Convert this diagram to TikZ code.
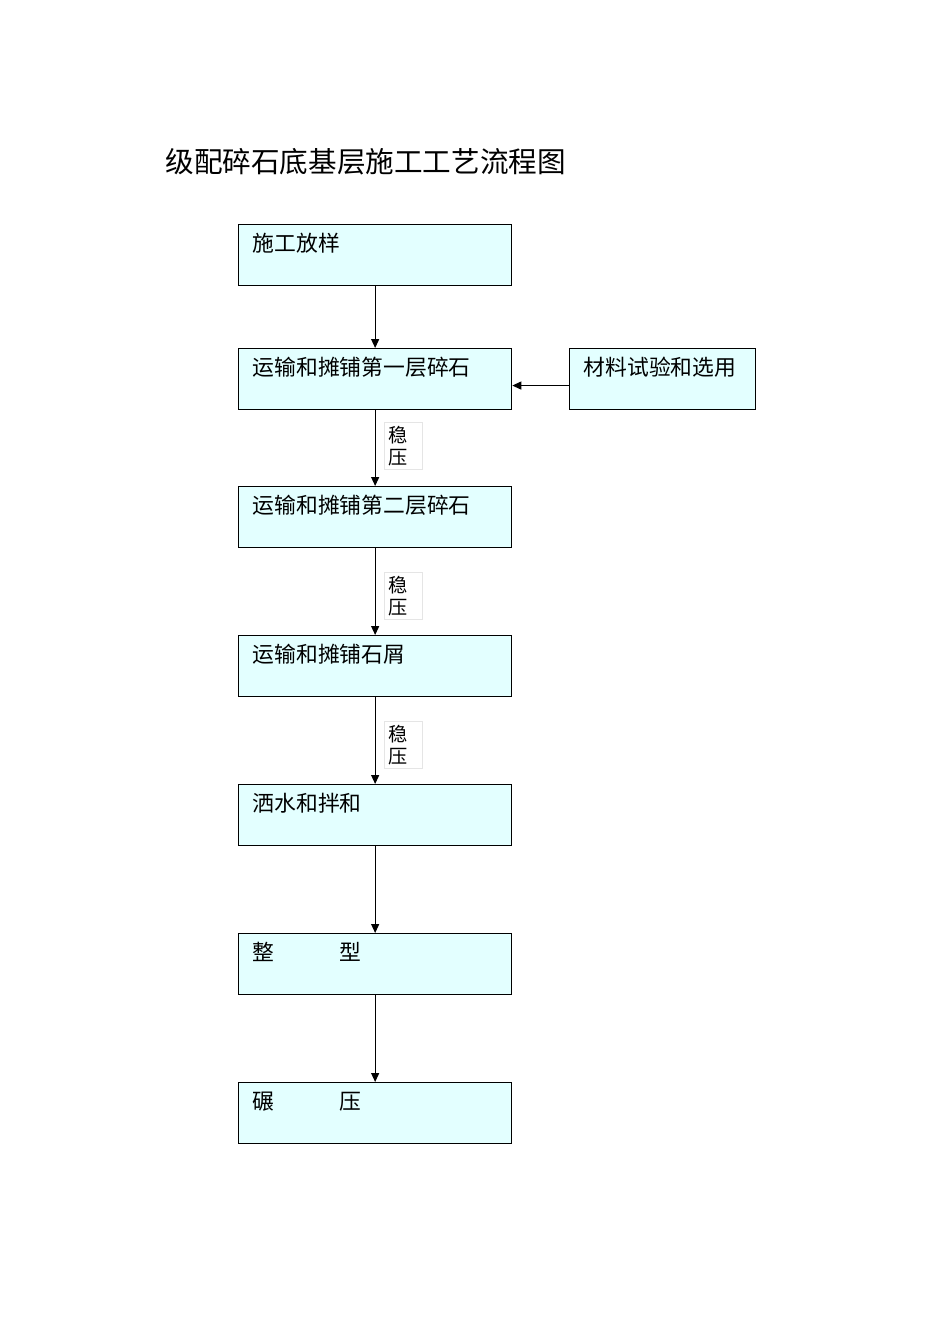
\documentclass[tikz,border=0pt]{standalone}
\usepackage{fontspec}
\setmainfont{Noto Sans CJK SC}
\usetikzlibrary{arrows.meta}
\definecolor{boxfill}{HTML}{E3FFFF}
\begin{document}
\begin{tikzpicture}[x=0.5pt,y=-0.5pt,
  stepbox/.style={draw=black,line width=0.65pt,fill=boxfill,anchor=north west,
    minimum width=136.5pt,text width=122.5pt,align=left,
    inner xsep=7pt,inner ysep=2pt,text height=11.6pt,text depth=14.9pt,
    font=\fontsize{10.9}{12}\selectfont},
  sidebox/.style={stepbox,minimum width=93pt,text width=79pt},
  lab/.style={draw=black!10,fill=white,anchor=north west,minimum width=19pt,minimum height=23.5pt,
    inner xsep=2pt,inner ysep=1pt,text width=15pt,align=left,
    font=\fontsize{9.6}{11}\selectfont},
  arr/.style={draw=black,line width=0.6pt,-{Triangle[length=4.5pt,width=4pt]}}]
\useasboundingbox (0,0) rectangle (950,1344);
\node[anchor=north west,inner sep=0pt,font=\fontsize{14.3}{16}\selectfont] (title) at (165,148) {级配碎石底基层施工工艺流程图};
\node[stepbox] (b1) at (238,224) {施工放样};
\node[stepbox] (b2) at (238,348) {运输和摊铺第一层碎石};
\node[sidebox] (s) at (569,348) {材料试验和选用};
\node[stepbox] (b3) at (238,486) {运输和摊铺第二层碎石};
\node[stepbox] (b4) at (238,635) {运输和摊铺石屑};
\node[stepbox] (b5) at (238,784) {洒水和拌和};
\node[stepbox] (b6) at (238,933) {整　　　型};
\node[stepbox] (b7) at (238,1082) {碾　　　压};
\node[lab] (l1) at (384,422) {稳\\压};
\node[lab] (l2) at (384,572) {稳\\压};
\node[lab] (l3) at (384,721) {稳\\压};
\draw[arr] (b1.south) -- (b2.north);
\draw[arr] (b2.south) -- (b3.north);
\draw[arr] (b3.south) -- (b4.north);
\draw[arr] (b4.south) -- (b5.north);
\draw[arr] (b5.south) -- (b6.north);
\draw[arr] (b6.south) -- (b7.north);
\draw[arr] ([yshift=-3.2pt]s.west) -- ([yshift=-3.2pt]b2.east);
\end{tikzpicture}
\end{document}
